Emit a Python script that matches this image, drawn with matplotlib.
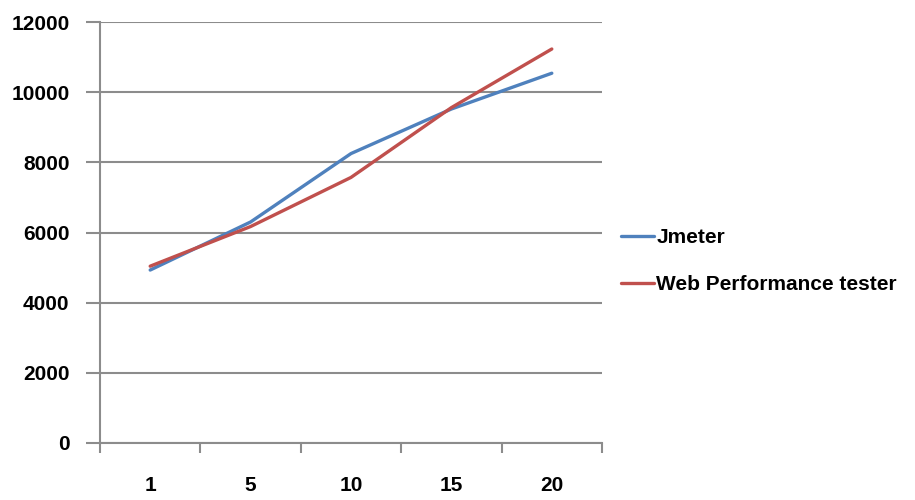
import matplotlib
matplotlib.use("Agg")
import matplotlib.pyplot as plt
import numpy as np

categories = ["1", "5", "10", "15", "20"]
jmeter = [4930, 6300, 8250, 9520, 10540]
web_perf = [5040, 6170, 7570, 9560, 11230]
y_ticks = [0, 2000, 4000, 6000, 8000, 10000, 12000]

plt.rcParams['font.family'] = ['Liberation Sans', 'DejaVu Sans']

fig = plt.figure(figsize=(9.15, 5.0), dpi=100)
ax = fig.add_axes([100 / 915, 57 / 500, 502 / 915, 421 / 500])

x = np.arange(len(categories))
l1, = ax.plot(x, jmeter, color="#4F81BD", lw=2.4, solid_capstyle="round",
              solid_joinstyle="round", label="Jmeter")
l2, = ax.plot(x, web_perf, color="#C0504D", lw=2.4, solid_capstyle="round",
              solid_joinstyle="round", label="Web Performance tester")

ax.set_xlim(-0.5, len(categories) - 0.5)
ax.set_ylim(0, 12000)
ax.set_yticks(y_ticks)
ax.set_yticklabels([str(v) for v in y_ticks], fontsize=15, fontweight="bold")
ax.set_xticks(x)
ax.set_xticklabels(categories, fontsize=15, fontweight="bold")
ax.set_xticks(np.arange(-0.5, len(categories)), minor=True)

grid_c = "#8c8c8c"
ax.grid(axis="y", color=grid_c, lw=1.5)
ax.set_axisbelow(True)
for s in ["top", "right"]:
    ax.spines[s].set_visible(False)
for s in ["left", "bottom"]:
    ax.spines[s].set_color(grid_c)
    ax.spines[s].set_linewidth(1.5)

ax.tick_params(axis="y", length=10, width=1.5, color=grid_c, pad=12)
ax.tick_params(axis="x", which="major", length=0, pad=24)
ax.tick_params(axis="x", which="minor", length=7, width=1.5, color=grid_c)

fig.legend(handles=[l1, l2], loc="center left", bbox_to_anchor=(602 / 915, 1 - 261 / 500),
           frameon=False, handlelength=1.6, handletextpad=0.1,
           labelspacing=1.35, prop={"weight": "bold", "size": 15})

fig.savefig("out.png", dpi=100, facecolor="white")
